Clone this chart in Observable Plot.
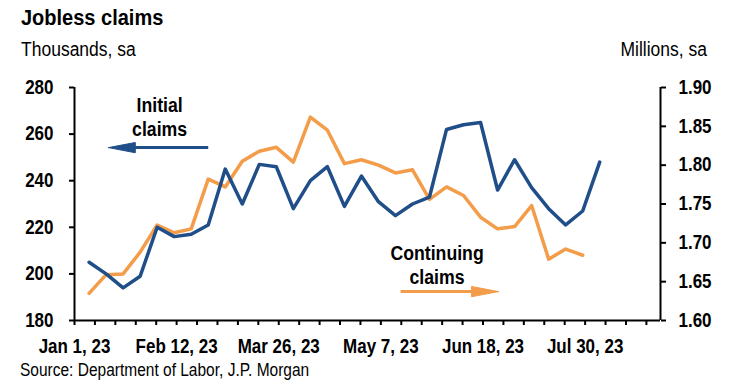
<!DOCTYPE html>
<html><head><meta charset="utf-8">
<script src="https://cdn.jsdelivr.net/npm/d3@7"></script>
<script src="https://cdn.jsdelivr.net/npm/@observablehq/plot@0.6"></script>
<style>
body{margin:0;background:#fff;font-family:"Liberation Sans",Arial,sans-serif;color:#000;width:740px;}
#title{height:34px;line-height:34px;padding-left:21px;font-size:20px;font-weight:bold;}
#units{height:30px;line-height:30px;font-size:17.5px;position:relative;}
#units .l{position:absolute;left:21px;}
#units .r{position:absolute;right:33px;}
#source{height:20px;line-height:20px;padding-left:20px;font-size:15.5px;}
.tall{display:inline-block;transform:scaleY(1.13);transform-origin:center;}
svg{display:block}
</style></head><body>
<div id="title"><span class="tall">Jobless claims</span></div>
<div id="units"><span class="l tall">Thousands, sa</span><span class="r tall">Millions, sa</span></div>
<div id="chart"></div>
<div id="source"><span class="tall">Source: Department of Labor, J.P. Morgan</span></div>
<script>
// Week-ending dates (2023)
const weekEnding = ["2023-01-07","2023-01-14","2023-01-21","2023-01-28","2023-02-04","2023-02-11","2023-02-18","2023-02-25",
  "2023-03-04","2023-03-11","2023-03-18","2023-03-25","2023-04-01","2023-04-08","2023-04-15","2023-04-22","2023-04-29",
  "2023-05-06","2023-05-13","2023-05-20","2023-05-27","2023-06-03","2023-06-10","2023-06-17","2023-06-24","2023-07-01",
  "2023-07-08","2023-07-15","2023-07-22","2023-07-29","2023-08-05"];
// Initial claims, thousands (left axis)
const initialClaims = [205,200,194,199,220,216,217,221,245,230,247,246,228,240,246,229,242,231,225,230,233,262,264,265,236,249,237,228,221,227,248];
// Continuing claims, millions (right axis)
const continuingClaims = [1.635,1.659,1.660,1.688,1.723,1.713,1.718,1.782,1.772,1.805,1.818,1.823,1.804,1.862,1.845,1.802,1.807,1.800,1.790,1.794,1.756,1.772,1.761,1.733,1.718,1.721,1.748,1.679,1.692,1.684];

const leftTicks = [180,200,220,240,260,280];
const rightTicks = [1.60,1.65,1.70,1.75,1.80,1.85,1.90];
const xTickLabels = ["Jan 1, 23","Feb 12, 23","Mar 26, 23","May 7, 23","Jun 18, 23","Jul 30, 23"];
const xLabelDates = ["2023-01-01","2023-02-12","2023-03-26","2023-05-07","2023-06-18","2023-07-30"];

const BLUE = "#1f4e88", ORANGE = "#f39c4a";
const start = new Date(Date.UTC(2023,0,1)), end = new Date(Date.UTC(2023,7,30));
const day = d => new Date(Date.UTC(2023,0,1) + d*864e5);
const parse = s => new Date(s + "T00:00:00Z");

// right axis (millions) mapped onto left axis (thousands)
const toLeft = v => 180 + (v - 1.6) / 0.3 * 100;
const fromLeft = v => 1.6 + (v - 180) / 100 * 0.3;

const initialData = weekEnding.map((d,i) => ({date: parse(d), v: initialClaims[i]}));
const contData = continuingClaims.map((v,i) => ({date: parse(weekEnding[i]), v: toLeft(v)}));

const labelMap = new Map(xLabelDates.map((d,i) => [+parse(d), xTickLabels[i]]));
const minorTicks = d3.range(0, 29).map(i => day(i * 8.4));

// annotations (day offsets from Jan 1, left-axis units)
const initialText = [{d: 35, v: 267.7, t: "Initial\nclaims"}];
const contText = [{d: 149.1, v: 203.9, t: "Continuing\nclaims"}];
const blueShaft = [{d1: 22, d2: 55, v: 254.2}];
const blueHead = [{d:14,v:254.2},{d:25,v:256.4},{d:25,v:252.0},{d:14,v:254.2}];
const orangeShaft = [{d1: 134.1, d2: 166, v: 192.4}];
const orangeHead = [{d:174.4,v:192.4},{d:163.3,v:194.6},{d:163.3,v:190.2},{d:174.4,v:192.4}];

const SY = 1.15;
const font = '"Liberation Sans", Arial, sans-serif';
const chart = Plot.plot({
  width: 740, height: 296,
  marginLeft: 74, marginRight: 80, marginTop: 23, marginBottom: 40,
  style: {fontFamily: font, fontSize: "17px", fontWeight: "bold", color: "#000", background: "#fff"},
  x: {type: "utc", domain: [start, end]},
  y: {domain: [180, 280]},
  marks: [
    Plot.axisY(leftTicks, {anchor: "left", tickSize: 5, tickPadding: 16, strokeWidth: 2, label: null, fontWeight: "bold", fontSize: 17}),
    Plot.axisY(rightTicks.map(toLeft), {anchor: "right", tickSize: 5, tickPadding: 13, strokeWidth: 2, label: null,
      tickFormat: d => fromLeft(d).toFixed(2), fontWeight: "bold", fontSize: 17}),
    Plot.axisX(minorTicks, {anchor: "bottom", tickSize: 5, strokeWidth: 2, tickFormat: () => "", label: null}),
    Plot.axisX(xLabelDates.map(parse), {anchor: "bottom", tickSize: 0, tickPadding: 20, label: null,
      tickFormat: d => labelMap.get(+d), fontWeight: "bold", fontSize: 17}),
    Plot.ruleX([start], {stroke: "#000", strokeWidth: 2}),
    Plot.ruleX([end], {stroke: "#000", strokeWidth: 2}),
    Plot.ruleY([180], {stroke: "#000", strokeWidth: 2}),
    Plot.line(contData, {x: "date", y: "v", stroke: ORANGE, strokeWidth: 3.5}),
    Plot.line(initialData, {x: "date", y: "v", stroke: BLUE, strokeWidth: 3.5}),
    Plot.link(blueShaft, {x1: d => day(d.d1), x2: d => day(d.d2), y1: "v", y2: "v", stroke: BLUE, strokeWidth: 3}),
    Plot.line(blueHead, {x: d => day(d.d), y: "v", fill: BLUE, stroke: BLUE, strokeWidth: 1}),
    Plot.link(orangeShaft, {x1: d => day(d.d1), x2: d => day(d.d2), y1: "v", y2: "v", stroke: ORANGE, strokeWidth: 3}),
    Plot.line(orangeHead, {x: d => day(d.d), y: "v", fill: ORANGE, stroke: ORANGE, strokeWidth: 1}),
    Plot.text(initialText, {x: d => day(d.d), y: "v", text: "t", fontSize: 17.7, fontWeight: "bold", lineHeight: 1.36 / SY, fill: "#000"}),
    Plot.text(contText, {x: d => day(d.d), y: "v", text: "t", fontSize: 17.7, fontWeight: "bold", lineHeight: 1.36 / SY, fill: "#000"})
  ]
});
document.getElementById("chart").appendChild(chart);
// stretch glyphs vertically (reference text is taller), keeping each label centred in place
chart.querySelectorAll("text").forEach(t => {
  if (!t.textContent.trim()) return;
  const b = t.getBBox();
  const cy = b.y + b.height / 2;
  const prev = t.getAttribute("transform") || "";
  t.setAttribute("transform", `${prev} translate(0,${cy}) scale(1,${SY}) translate(0,${-cy})`);
});
</script>
</body></html>
